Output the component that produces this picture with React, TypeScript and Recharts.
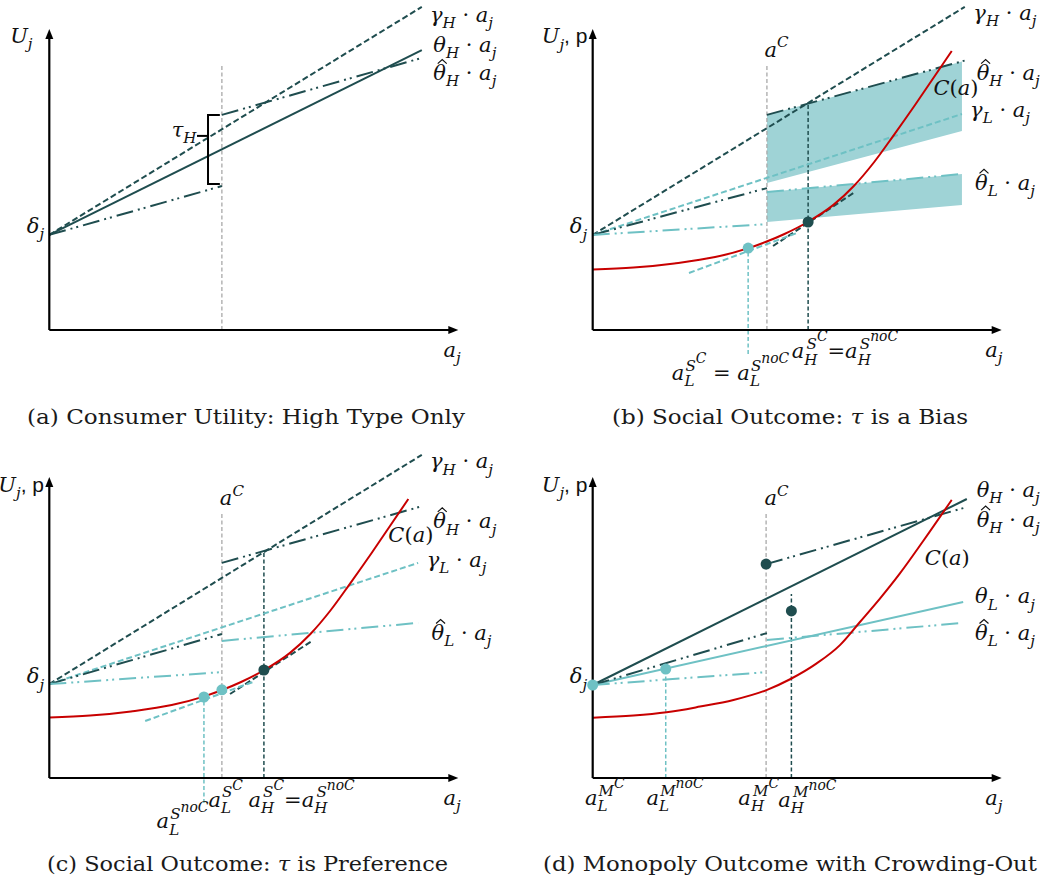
import React from "react";
import { ComposedChart, Line, Area, Scatter, XAxis, YAxis, ReferenceDot } from "recharts";

// ---- shared values (x = effort a_j, y = utility / price, arbitrary units) ----
const X_AXIS_LINE = [{ x: 0, y: 0 }, { x: 9.85, y: 0 }];
const Y_AXIS_LINE = [{ x: 0, y: 0 }, { x: 0, y: 9.8 }];
const AXIS_TIPS = { x: 10, y: 10 };

const COST_CURVE = [
  { x: 0, y: 2.02 }, { x: 1, y: 2.08 }, { x: 2, y: 2.22 }, { x: 3, y: 2.43 },
  { x: 3.8, y: 2.72 }, { x: 4.25, y: 2.94 }, { x: 4.7, y: 3.2 }, { x: 5.27, y: 3.6 },
  { x: 5.9, y: 4.17 }, { x: 6.4, y: 4.8 }, { x: 6.9, y: 5.6 }, { x: 7.35, y: 6.44 },
  { x: 7.9, y: 7.5 }, { x: 8.35, y: 8.4 }, { x: 8.8, y: 9.3 },
];

// ---- panel (a) ----
const A_GAMMA_H = [{ x: 0, y: 3.17 }, { x: 9.13, y: 10.77 }];
const A_THETA_H = [{ x: 0, y: 3.17 }, { x: 9.13, y: 9.33 }];
const A_THETAHAT_H_1 = [{ x: 0, y: 3.17 }, { x: 4.23, y: 4.8 }];
const A_THETAHAT_H_2 = [{ x: 4.23, y: 7.17 }, { x: 9.13, y: 9.07 }];
const A_AC = [{ x: 4.23, y: 0 }, { x: 4.23, y: 8.87 }];
const A_BRACE = [{ x: 4.18, y: 7.17 }, { x: 3.89, y: 7.17 }, { x: 3.89, y: 4.87 }, { x: 4.18, y: 4.87 }];
const A_BRACE_TICK = [{ x: 3.89, y: 6.47 }, { x: 3.62, y: 6.47 }];

// ---- panel (b) ----
const B_GAMMA_H = [{ x: 0, y: 3.17 }, { x: 9.12, y: 10.77 }];
const B_THETAHAT_H_1 = [{ x: 0, y: 3.17 }, { x: 4.27, y: 4.73 }];
const B_THETAHAT_H_2 = [{ x: 4.27, y: 7.17 }, { x: 9.17, y: 9.0 }];
const B_GAMMA_L = [{ x: 0, y: 3.17 }, { x: 9.05, y: 7.2 }];
const B_THETAHAT_L_1 = [{ x: 0, y: 3.17 }, { x: 4.27, y: 3.53 }];
const B_THETAHAT_L_2 = [{ x: 4.27, y: 4.6 }, { x: 9.05, y: 5.2 }];
const B_BAND_H = [{ x: 4.27, range: [4.9, 7.17] }, { x: 9.05, range: [6.63, 8.95] }];
const B_BAND_L = [{ x: 4.27, range: [3.6, 4.6] }, { x: 9.05, range: [4.17, 5.2] }];
const B_TANGENT_H = [{ x: 4.42, y: 2.8 }, { x: 6.43, y: 4.6 }];
const B_TANGENT_L = [{ x: 2.36, y: 1.9 }, { x: 5.0, y: 3.23 }];
const B_AC = [{ x: 4.27, y: 0 }, { x: 4.27, y: 8.87 }];
const B_AH = [{ x: 5.28, y: 0 }, { x: 5.28, y: 7.57 }];
const B_AL = [{ x: 3.81, y: -0.8 }, { x: 3.81, y: 2.73 }];
const B_DOTS_H = [{ x: 5.28, y: 3.6 }];
const B_DOTS_L = [{ x: 3.81, y: 2.73 }];

// ---- panel (c) ----
const C_GAMMA_H = [{ x: 0, y: 3.13 }, { x: 9.13, y: 10.77 }];
const C_THETAHAT_H_1 = [{ x: 0, y: 3.13 }, { x: 4.23, y: 4.8 }];
const C_THETAHAT_H_2 = [{ x: 4.23, y: 7.17 }, { x: 9.16, y: 9.07 }];
const C_GAMMA_L = [{ x: 0, y: 3.13 }, { x: 9.04, y: 7.17 }];
const C_THETAHAT_L_1 = [{ x: 0, y: 3.13 }, { x: 4.23, y: 3.53 }];
const C_THETAHAT_L_2 = [{ x: 4.23, y: 4.57 }, { x: 9.04, y: 5.17 }];
const C_TANGENT_H = [{ x: 4.43, y: 2.8 }, { x: 6.44, y: 4.57 }];
const C_TANGENT_L = [{ x: 2.35, y: 1.9 }, { x: 4.99, y: 3.2 }];
const C_AC = [{ x: 4.23, y: 0 }, { x: 4.23, y: 8.87 }];
const C_AH = [{ x: 5.26, y: 0 }, { x: 5.26, y: 7.53 }];
const C_AL = [{ x: 3.79, y: -0.83 }, { x: 3.79, y: 2.7 }];
const C_DOTS_H = [{ x: 5.26, y: 3.6 }];
const C_DOTS_L = [{ x: 3.79, y: 2.7 }, { x: 4.23, y: 2.94 }];

// ---- panel (d) ----
const D_THETA_H = [{ x: 0, y: 3.1 }, { x: 9.17, y: 9.3 }];
const D_THETAHAT_H_1 = [{ x: 0, y: 3.1 }, { x: 4.27, y: 4.83 }];
const D_THETAHAT_H_2 = [{ x: 4.25, y: 7.13 }, { x: 9.17, y: 9.03 }];
const D_THETA_L = [{ x: 0, y: 3.1 }, { x: 9.08, y: 5.87 }];
const D_THETAHAT_L_1 = [{ x: 0, y: 3.1 }, { x: 4.27, y: 3.53 }];
const D_THETAHAT_L_2 = [{ x: 4.27, y: 4.6 }, { x: 9.08, y: 5.17 }];
const D_COST_CURVE = [
  { x: 0, y: 2.01 }, { x: 1.0, y: 2.08 }, { x: 1.81, y: 2.19 }, { x: 2.63, y: 2.38 },
  { x: 3.45, y: 2.6 }, { x: 4.26, y: 2.93 }, { x: 4.85, y: 3.3 }, { x: 5.49, y: 3.82 },
  { x: 6.06, y: 4.43 }, { x: 6.55, y: 5.2 }, { x: 7.04, y: 5.98 }, { x: 7.53, y: 6.82 },
  { x: 8.1, y: 7.9 }, { x: 8.8, y: 9.27 },
];
const D_AC = [{ x: 4.25, y: 0 }, { x: 4.25, y: 8.87 }];
const D_AH = [{ x: 4.87, y: 0 }, { x: 4.87, y: 6.13 }];
const D_AL = [{ x: 1.79, y: 0 }, { x: 1.79, y: 3.63 }];
const D_DOTS_H = [{ x: 4.25, y: 7.13 }, { x: 4.87, y: 5.57 }];
const D_DOTS_L = [{ x: 0, y: 3.1 }, { x: 1.79, y: 3.63 }];

// ---- label texts ----
type Part = { t: string; lv?: number; up?: boolean; sans?: boolean; dx?: number; hat?: boolean };
const DOT_A: Part[] = [{ t: " · ", up: true }, { t: "a" }, { t: "j", lv: 1 }];
const T_GAMMA_H: Part[] = [{ t: "γ" }, { t: "H", lv: 1 }, ...DOT_A];
const T_GAMMA_L: Part[] = [{ t: "γ" }, { t: "L", lv: 1 }, ...DOT_A];
const T_THETA_H: Part[] = [{ t: "θ" }, { t: "H", lv: 1 }, ...DOT_A];
const T_THETA_L: Part[] = [{ t: "θ" }, { t: "L", lv: 1 }, ...DOT_A];
const T_THAT_H: Part[] = [{ t: "θ", hat: true }, { t: "H", lv: 1 }, ...DOT_A];
const T_THAT_L: Part[] = [{ t: "θ", hat: true }, { t: "L", lv: 1 }, ...DOT_A];
const T_U: Part[] = [{ t: "U" }, { t: "j", lv: 1 }];
const T_UP: Part[] = [{ t: "U" }, { t: "j", lv: 1 }, { t: ", p", up: true, sans: true }];
const T_DELTA: Part[] = [{ t: "δ" }, { t: "j", lv: 1 }];
const T_AJ: Part[] = [{ t: "a" }, { t: "j", lv: 1 }];
const T_TAU: Part[] = [{ t: "τ" }, { t: "H", lv: 1 }];
const T_AC: Part[] = [{ t: "a" }, { t: "C", lv: 2 }];
const T_COST: Part[] = [{ t: "C" }, { t: "(", up: true }, { t: "a" }, { t: ")", up: true }];
const aSub = (sub: string, sup: string, sup2: string, back: number): Part[] => [
  { t: "a" }, { t: sub, lv: 1 }, { t: sup, lv: 2, dx: back }, { t: sup2, lv: 3 },
];
const T_B_AL: Part[] = [...aSub("L", "S", "C", -9), { t: " = ", up: true }, ...aSub("L", "S", "noC", -9)];
const T_AH_S: Part[] = [...aSub("H", "S", "C", -11), { t: "=", up: true }, ...aSub("H", "S", "noC", -11)];
const T_C_ALC: Part[] = aSub("L", "S", "C", -9);
const T_C_ALNOC: Part[] = aSub("L", "S", "noC", -9);
const T_D_ALC: Part[] = aSub("L", "M", "C", -9);
const T_D_ALNOC: Part[] = aSub("L", "M", "noC", -9);
const T_D_AHC: Part[] = aSub("H", "M", "C", -11);
const T_D_AHNOC: Part[] = aSub("H", "M", "noC", -11);

const CAPTIONS = [
  "(a) Consumer Utility: High Type Only",
  "(b) Social Outcome: τ is a Bias",
  "(c) Social Outcome: τ is Preference",
  "(d) Monopoly Outcome with Crowding-Out",
];

// ---- styles ----
const DARK = "#1f4d4f";
const LIGHT = "#6ec1c4";
const BAND = "#9fd3d6";
const RED = "#c80000";
const GREY = "#a9a9a9";
const DASH = "6 3";
const DDOT = "17 5 2 4 2 5";
const VDASH = "4 2.5";
const MATH_FONT = '"DejaVu Serif", serif';
const SANS_FONT = '"Liberation Sans", Arial, sans-serif';
const MATH_SIZE = 21;
const PX_X = 40.8;
const PX_Y = 30;

// text levels: base, subscript, superscript, superscript of superscript
const LV = [
  { s: 1, d: 0 },
  { s: 0.72, d: 0.3 },
  { s: 0.72, d: -0.45 },
  { s: 0.66, d: -0.8 },
];

const Tex = ({ x, y, parts, size = MATH_SIZE }: { x: number; y: number; parts: Part[]; size?: number }) => {
  let cur = 0;
  const k = size / 21;
  return (
    <g>
      {parts[0]?.hat && (
        <path
          d={`M${x + 4.5 * k},${y - 16.5 * k} L${x + 9 * k},${y - 20.5 * k} L${x + 13.5 * k},${y - 16.5 * k}`}
          fill="none"
          stroke="#111"
          strokeWidth={1.2}
        />
      )}
      <text x={x} y={y} fontFamily={MATH_FONT} fontSize={size} fill="#111" style={{ whiteSpace: "pre" }}>
        {parts.map((p, i) => {
          const lv = LV[p.lv ?? 0];
          const off = lv.d * size;
          const dy = off - cur;
          cur = off;
          return (
            <tspan
              key={i}
              dy={dy || undefined}
              dx={p.dx}
              fontSize={lv.s * size}
              fontStyle={p.up ? "normal" : "italic"}
              fontFamily={p.sans ? SANS_FONT : undefined}
            >
              {p.t}
            </tspan>
          );
        })}
      </text>
    </g>
  );
};

type Pt = { x: number; y: number };
type Seg = { data: Pt[]; color: string; width: number; dash?: string; smooth?: boolean };
type Lbl = { x: number; y: number; parts: Part[] };
type Frame = { left: number; top: number; w: number; h: number; ox: number; oy: number };

const Panel = ({
  f, lines, bands = [], dots = [], labels,
}: {
  f: Frame; lines: Seg[]; bands?: any[][]; dots?: { data: Pt[]; color: string }[]; labels: Lbl[];
}) => {
  const xd = [-f.ox / PX_X, (f.w - f.ox) / PX_X];
  const yd = [-(f.h - f.oy) / PX_Y, f.oy / PX_Y];
  const axes: Seg[] = [
    { data: X_AXIS_LINE, color: "#000", width: 2.2 },
    { data: Y_AXIS_LINE, color: "#000", width: 2.2 },
  ];
  return (
    <div style={{ position: "absolute", left: f.left, top: f.top }}>
      <ComposedChart width={f.w} height={f.h} margin={{ top: 0, right: 0, bottom: 0, left: 0 }}>
        <XAxis type="number" dataKey="x" domain={xd} hide allowDataOverflow />
        <YAxis type="number" domain={yd} hide allowDataOverflow />
        {bands.map((b, i) => (
          <Area
            key={`b${i}`}
            data={b}
            dataKey="range"
            type="linear"
            stroke="none"
            fill={BAND}
            fillOpacity={1}
            isAnimationActive={false}
          />
        ))}
        {[...lines, ...axes].map((s, i) => (
          <Line
            key={`l${i}`}
            data={s.data}
            dataKey="y"
            type={s.smooth ? "monotone" : "linear"}
            stroke={s.color}
            strokeWidth={s.width}
            strokeDasharray={s.dash}
            dot={false}
            activeDot={false}
            isAnimationActive={false}
          />
        ))}
        {dots.map((d, i) => (
          <Scatter
            key={`d${i}`}
            data={d.data}
            dataKey="y"
            fill={d.color}
            isAnimationActive={false}
            shape={(p: any) => <circle cx={p.cx} cy={p.cy} r={5.5} fill={d.color} />}
          />
        ))}
        <ReferenceDot
          x={0}
          y={AXIS_TIPS.y}
          r={0}
          ifOverflow="visible"
          shape={(p: any) => (
            <polygon points={`${p.cx},${p.cy - 1} ${p.cx - 4},${p.cy + 9} ${p.cx + 4},${p.cy + 9}`} fill="#000" />
          )}
        />
        <ReferenceDot
          x={AXIS_TIPS.x}
          y={0}
          r={0}
          ifOverflow="visible"
          shape={(p: any) => (
            <polygon points={`${p.cx + 1},${p.cy} ${p.cx - 9},${p.cy - 4} ${p.cx - 9},${p.cy + 4}`} fill="#000" />
          )}
        />
        {labels.map((l, i) => (
          <ReferenceDot
            key={`t${i}`}
            x={l.x}
            y={l.y}
            r={0}
            ifOverflow="visible"
            shape={(p: any) => <Tex x={p.cx} y={p.cy} parts={l.parts} />}
          />
        ))}
      </ComposedChart>
    </div>
  );
};

const FRAME_A: Frame = { left: 0, top: 0, w: 520, h: 395, ox: 49.3, oy: 330 };
const FRAME_B: Frame = { left: 520, top: 0, w: 523, h: 395, ox: 72.7, oy: 330 };
const FRAME_C: Frame = { left: 0, top: 440, w: 520, h: 405, ox: 49.3, oy: 338 };
const FRAME_D: Frame = { left: 520, top: 440, w: 523, h: 405, ox: 72.7, oy: 338 };

const CAPTION_POS = [
  { x: 246, y: 424, len: 438 },
  { x: 790, y: 424, len: 356 },
  { x: 247.5, y: 871, len: 401 },
  { x: 790, y: 871, len: 494 },
];

const Caption = ({ text, i }: { text: string; i: number }) => {
  const bits = text.split("τ");
  return (
    <text
      x={CAPTION_POS[i].x}
      y={CAPTION_POS[i].y}
      textAnchor="middle"
      textLength={CAPTION_POS[i].len}
      lengthAdjust="spacingAndGlyphs"
      fontFamily='"DejaVu Serif", serif'
      fontSize={20}
      fill="#1a1a1a"
      style={{ whiteSpace: "pre" }}
    >
      {bits.map((b, k) => (
        <React.Fragment key={k}>
          {k > 0 && <tspan fontStyle="italic">τ</tspan>}
          <tspan>{b}</tspan>
        </React.Fragment>
      ))}
    </text>
  );
};

export default function App() {
  return (
    <div style={{ position: "relative", width: 1043, height: 886, background: "#fff" }}>
      <style>{"body{margin:0;background:#fff}"}</style>

      <Panel
        f={FRAME_A}
        lines={[
          { data: A_AC, color: GREY, width: 1.3, dash: VDASH },
          { data: A_GAMMA_H, color: DARK, width: 2, dash: DASH },
          { data: A_THETA_H, color: DARK, width: 2 },
          { data: A_THETAHAT_H_1, color: DARK, width: 2, dash: DDOT },
          { data: A_THETAHAT_H_2, color: DARK, width: 2, dash: DDOT },
          { data: A_BRACE, color: "#000", width: 2 },
          { data: A_BRACE_TICK, color: "#000", width: 2 },
        ]}
        labels={[
          { x: 9.33, y: 10.27, parts: T_GAMMA_H },
          { x: 9.41, y: 9.28, parts: T_THETA_H },
          { x: 9.41, y: 8.33, parts: T_THAT_H },
          { x: 3.0, y: 6.44, parts: T_TAU },
          { x: -0.96, y: 9.58, parts: T_U },
          { x: -0.55, y: 3.23, parts: T_DELTA },
          { x: 9.66, y: -0.89, parts: T_AJ },
        ]}
      />

      <Panel
        f={FRAME_B}
        bands={[B_BAND_H, B_BAND_L]}
        lines={[
          { data: B_AC, color: GREY, width: 1.3, dash: VDASH },
          { data: B_AH, color: DARK, width: 1.5, dash: VDASH },
          { data: B_AL, color: LIGHT, width: 1.5, dash: VDASH },
          { data: B_GAMMA_H, color: DARK, width: 2, dash: DASH },
          { data: B_GAMMA_L, color: LIGHT, width: 2, dash: DASH },
          { data: B_THETAHAT_H_1, color: DARK, width: 2, dash: DDOT },
          { data: B_THETAHAT_H_2, color: DARK, width: 2, dash: DDOT },
          { data: B_THETAHAT_L_1, color: LIGHT, width: 2, dash: DDOT },
          { data: B_THETAHAT_L_2, color: LIGHT, width: 2, dash: DDOT },
          { data: B_TANGENT_H, color: DARK, width: 2, dash: DASH },
          { data: B_TANGENT_L, color: LIGHT, width: 2, dash: DASH },
          { data: COST_CURVE, color: RED, width: 2, smooth: true },
        ]}
        dots={[
          { data: B_DOTS_H, color: DARK },
          { data: B_DOTS_L, color: LIGHT },
        ]}
        labels={[
          { x: 9.33, y: 10.33, parts: T_GAMMA_H },
          { x: 9.41, y: 8.33, parts: T_THAT_H },
          { x: 8.35, y: 7.83, parts: T_COST },
          { x: 9.25, y: 7.11, parts: T_GAMMA_L },
          { x: 9.37, y: 4.67, parts: T_THAT_L },
          { x: 4.21, y: 9.11, parts: T_AC },
          { x: -1.25, y: 9.56, parts: T_UP },
          { x: -0.56, y: 3.22, parts: T_DELTA },
          { x: 9.62, y: -0.89, parts: T_AJ },
          { x: 1.94, y: -1.67, parts: T_B_AL },
          { x: 4.88, y: -0.94, parts: T_AH_S },
        ]}
      />

      <Panel
        f={FRAME_C}
        lines={[
          { data: C_AC, color: GREY, width: 1.3, dash: VDASH },
          { data: C_AH, color: DARK, width: 1.5, dash: VDASH },
          { data: C_AL, color: LIGHT, width: 1.5, dash: VDASH },
          { data: C_GAMMA_H, color: DARK, width: 2, dash: DASH },
          { data: C_GAMMA_L, color: LIGHT, width: 2, dash: DASH },
          { data: C_THETAHAT_H_1, color: DARK, width: 2, dash: DDOT },
          { data: C_THETAHAT_H_2, color: DARK, width: 2, dash: DDOT },
          { data: C_THETAHAT_L_1, color: LIGHT, width: 2, dash: DDOT },
          { data: C_THETAHAT_L_2, color: LIGHT, width: 2, dash: DDOT },
          { data: C_TANGENT_H, color: DARK, width: 2, dash: DASH },
          { data: C_TANGENT_L, color: LIGHT, width: 2, dash: DASH },
          { data: COST_CURVE, color: RED, width: 2, smooth: true },
        ]}
        dots={[
          { data: C_DOTS_H, color: DARK },
          { data: C_DOTS_L, color: LIGHT },
        ]}
        labels={[
          { x: 9.33, y: 10.32, parts: T_GAMMA_H },
          { x: 9.41, y: 8.32, parts: T_THAT_H },
          { x: 8.31, y: 7.88, parts: T_COST },
          { x: 9.25, y: 7.04, parts: T_GAMMA_L },
          { x: 9.37, y: 4.6, parts: T_THAT_L },
          { x: 4.18, y: 9.1, parts: T_AC },
          { x: -1.25, y: 9.54, parts: T_UP },
          { x: -0.55, y: 3.16, parts: T_DELTA },
          { x: 9.66, y: -0.9, parts: T_AJ },
          { x: 3.9, y: -0.96, parts: T_C_ALC },
          { x: 4.88, y: -0.96, parts: T_AH_S },
          { x: 2.63, y: -1.68, parts: T_C_ALNOC },
        ]}
      />

      <Panel
        f={FRAME_D}
        lines={[
          { data: D_AC, color: GREY, width: 1.3, dash: VDASH },
          { data: D_AH, color: DARK, width: 1.5, dash: VDASH },
          { data: D_AL, color: LIGHT, width: 1.5, dash: VDASH },
          { data: D_THETA_H, color: DARK, width: 2 },
          { data: D_THETA_L, color: LIGHT, width: 2 },
          { data: D_THETAHAT_H_1, color: DARK, width: 2, dash: DDOT },
          { data: D_THETAHAT_H_2, color: DARK, width: 2, dash: DDOT },
          { data: D_THETAHAT_L_1, color: LIGHT, width: 2, dash: DDOT },
          { data: D_THETAHAT_L_2, color: LIGHT, width: 2, dash: DDOT },
          { data: D_COST_CURVE, color: RED, width: 2, smooth: true },
        ]}
        dots={[
          { data: D_DOTS_H, color: DARK },
          { data: D_DOTS_L, color: LIGHT },
        ]}
        labels={[
          { x: 9.41, y: 9.38, parts: T_THETA_H },
          { x: 9.41, y: 8.38, parts: T_THAT_H },
          { x: 8.14, y: 7.1, parts: T_COST },
          { x: 9.37, y: 5.82, parts: T_THETA_L },
          { x: 9.37, y: 4.6, parts: T_THAT_L },
          { x: 4.21, y: 9.1, parts: T_AC },
          { x: -1.25, y: 9.54, parts: T_UP },
          { x: -0.56, y: 3.16, parts: T_DELTA },
          { x: 9.62, y: -0.9, parts: T_AJ },
          { x: -0.19, y: -0.9, parts: T_D_ALC },
          { x: 1.32, y: -0.9, parts: T_D_ALNOC },
          { x: 3.57, y: -0.9, parts: T_D_AHC },
          { x: 4.55, y: -0.96, parts: T_D_AHNOC },
        ]}
      />

      <svg width={1043} height={886} style={{ position: "absolute", left: 0, top: 0, pointerEvents: "none" }}>
        {CAPTIONS.map((c, i) => (
          <Caption key={i} text={c} i={i} />
        ))}
      </svg>
    </div>
  );
}
